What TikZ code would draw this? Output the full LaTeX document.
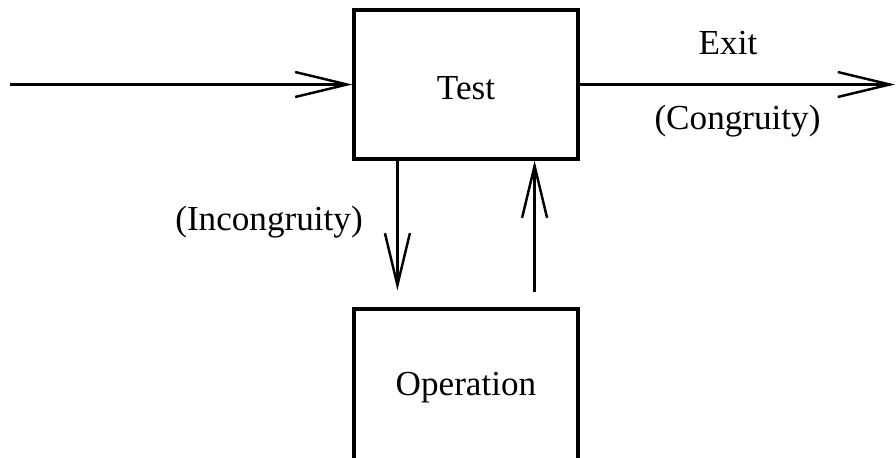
\documentclass[tikz,border=0pt]{standalone}
\usepackage{fontspec}
\setmainfont{Liberation Serif}
\usetikzlibrary{arrows.meta,positioning}

\tikzset{
  block/.style={draw, line width=1.8pt, minimum width=4.48cm, inner sep=0pt},
  flow/.style={line width=1.4pt, -{Straight Barb[length=10.4mm, width=5mm, line width=1.4pt]}},
  lbl/.style={inner sep=0pt}
}

\begin{document}
\begin{tikzpicture}[scale=1, font=\fontsize{20}{24}\selectfont]

\useasboundingbox (0,0) rectangle (17.92,9.14);
\clip (0,0) rectangle (17.92,9.14);

% Test
\node[block, minimum height=2.98cm, text height=0.62cm] (test) at (9.32,7.45) {Test};

% Operation
\node[block, minimum height=3.16cm] (oper) at (9.32,1.38) {Operation};

% Entree et sortie
\coordinate (in) at (0.2,7.45);
\coordinate (out) at (17.9,7.45);

\draw[flow]
(in)
--
(test.west);

\draw[flow]
(test.east)
--
(out);

\node[lbl] (exit) at (14.56,8.27) {Exit};
\node[lbl] (cong) at (14.75,6.72) {(Congruity)};

% Boucle
\coordinate (dn) at ([xshift=0.9cm]test.south west);
\coordinate (up) at ([xshift=-0.9cm]test.south east);

\draw[flow]
(dn)
--
([yshift=0.34cm]dn |- oper.north);

\draw[flow]
([yshift=0.3cm]up |- oper.north)
--
(up);

\node[lbl] (incong) at (5.38,4.69) {(Incongruity)};

\end{tikzpicture}
\end{document}
